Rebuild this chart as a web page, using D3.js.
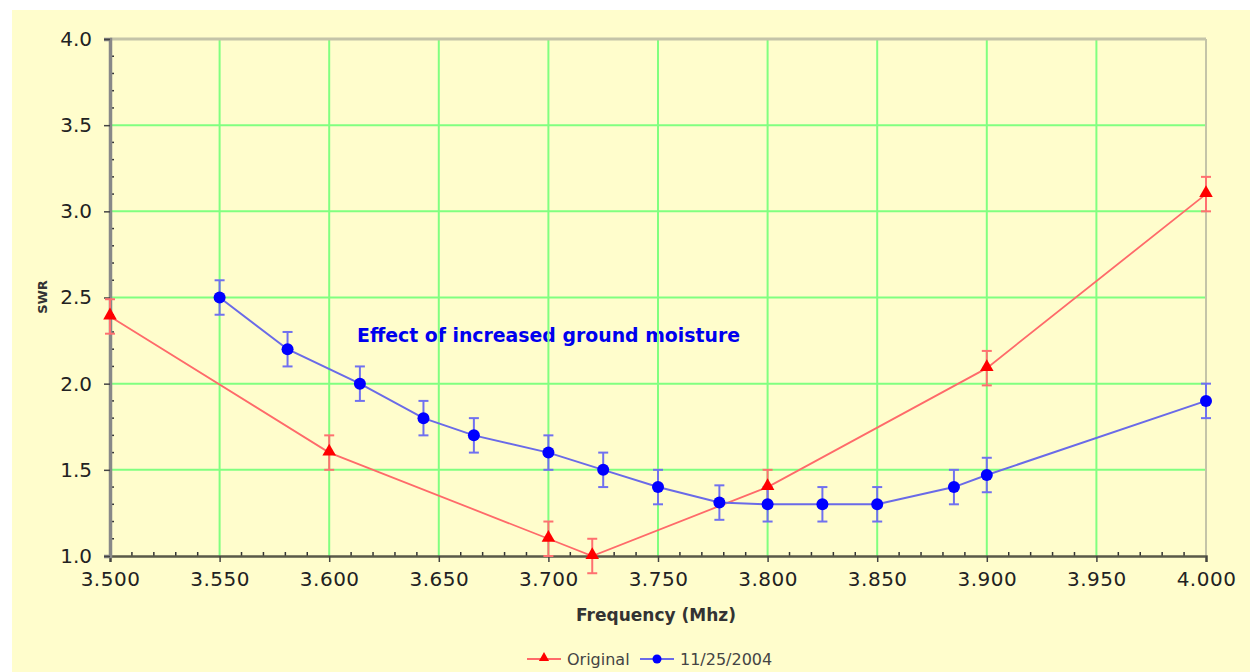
<!DOCTYPE html>
<html>
<head>
<meta charset="utf-8">
<script src="https://cdn.jsdelivr.net/npm/d3@7.9.0/dist/d3.min.js"></script>
<style>
  html, body { margin: 0; padding: 0; background: #fff; }
  svg { display: block; }
  text { font-family: "DejaVu Sans", Verdana, sans-serif; }
</style>
</head>
<body>
<div id="chart"></div>
<script>
// Original measurement (red triangles)
const originalFreq = [3.500, 3.600, 3.700, 3.720, 3.800, 3.900, 4.000];
const originalSwr  = [2.39, 1.60, 1.10, 1.00, 1.40, 2.09, 3.10];

// 11/25/2004 measurement (blue circles)
const recentFreq = [3.550, 3.581, 3.614, 3.643, 3.666, 3.700, 3.725, 3.750, 3.778, 3.800, 3.825, 3.850, 3.885, 3.900, 4.000];
const recentSwr  = [2.50, 2.20, 2.00, 1.80, 1.70, 1.60, 1.50, 1.40, 1.31, 1.30, 1.30, 1.30, 1.40, 1.47, 1.90];

const errSize = 0.1;

const xTicks = [3.500, 3.550, 3.600, 3.650, 3.700, 3.750, 3.800, 3.850, 3.900, 3.950, 4.000];
const yTicks = [1.0, 1.5, 2.0, 2.5, 3.0, 3.5, 4.0];

const seriesNames = ['Original', '11/25/2004'];

const width = 1250;
const height = 672;
const margin = { top: 39, right: 44, bottom: 116, left: 110 };

const svg = d3.select('#chart')
    .append('svg')
    .attr('width', width)
    .attr('height', height);

// yellow panel
svg.append('rect')
    .attr('x', 12).attr('y', 10)
    .attr('width', width - 12).attr('height', height - 10)
    .attr('fill', '#fffdcc');

const xScale = d3.scaleLinear()
    .domain([3.5, 4.0])
    .range([margin.left, width - margin.right]);

const yScale = d3.scaleLinear()
    .domain([1.0, 4.0])
    .range([height - margin.bottom, margin.top]);

const bottom = height - margin.bottom;
const right = width - margin.right;

// annotation sits under the grid in the original
svg.append('text')
    .attr('x', 357)
    .attr('y', 342)
    .attr('fill', '#0000ee')
    .attr('font-weight', 'bold')
    .attr('font-size', 20)
    .attr('textLength', 383)
    .attr('lengthAdjust', 'spacingAndGlyphs')
    .style('font-family', '"DejaVu Sans Condensed", "DejaVu Sans", sans-serif')
    .text('Effect of increased ground moisture');

// gridlines
const grid = svg.append('g').attr('stroke', '#80ff80').attr('stroke-width', 2);
grid.selectAll('line.v')
    .data(xTicks.slice(1, -1))
    .join('line')
    .attr('class', 'v')
    .attr('x1', d => xScale(d)).attr('x2', d => xScale(d))
    .attr('y1', margin.top).attr('y2', bottom);
grid.selectAll('line.h')
    .data(yTicks.slice(1, -1))
    .join('line')
    .attr('class', 'h')
    .attr('x1', margin.left).attr('x2', right)
    .attr('y1', d => yScale(d)).attr('y2', d => yScale(d));

// top and right border
svg.append('line')
    .attr('x1', margin.left).attr('x2', right)
    .attr('y1', margin.top).attr('y2', margin.top)
    .attr('stroke', '#c4c4a8').attr('stroke-width', 3);
svg.append('line')
    .attr('x1', right).attr('x2', right)
    .attr('y1', margin.top).attr('y2', bottom)
    .attr('stroke', '#c4c4a8').attr('stroke-width', 2);

// minor ticks
const xMinor = d3.range(3.5, 4.0001, 0.01).filter(v => Math.abs(v * 20 - Math.round(v * 20)) > 1e-6);
const yMinor = d3.range(1.0, 4.0001, 0.1).filter(v => Math.abs(v * 2 - Math.round(v * 2)) > 1e-6);

svg.append('g')
    .selectAll('line')
    .data(xMinor)
    .join('line')
    .attr('x1', d => xScale(d)).attr('x2', d => xScale(d))
    .attr('y1', bottom - 4).attr('y2', bottom)
    .attr('stroke', '#333').attr('stroke-width', 1.5);

svg.append('g')
    .selectAll('line')
    .data(yMinor)
    .join('line')
    .attr('x1', margin.left).attr('x2', margin.left + 4)
    .attr('y1', d => yScale(d)).attr('y2', d => yScale(d))
    .attr('stroke', '#333').attr('stroke-width', 1.5);

// axes
const xAxis = d3.axisBottom(xScale)
    .tickValues(xTicks)
    .tickFormat(d3.format('.3f'))
    .tickSize(6)
    .tickPadding(10);
const gx = svg.append('g')
    .attr('transform', `translate(0,${bottom})`)
    .call(xAxis);
gx.select('.domain').attr('stroke', '#5a5a48').attr('stroke-width', 2.5);
gx.selectAll('.tick line').attr('stroke', '#444').attr('stroke-width', 1.5);
gx.selectAll('.tick text')
    .attr('fill', '#222')
    .attr('font-size', 20)
    .attr('letter-spacing', 0.5)
    .style('font-family', '"DejaVu Sans", Verdana, sans-serif');

const yAxis = d3.axisLeft(yScale)
    .tickValues(yTicks)
    .tickFormat(d3.format('.1f'))
    .tickSize(6)
    .tickPadding(12);
const gy = svg.append('g')
    .attr('transform', `translate(${margin.left},0)`)
    .call(yAxis);
gy.select('.domain').attr('stroke', '#888').attr('stroke-width', 3.5);
gy.selectAll('.tick line').attr('stroke', '#444').attr('stroke-width', 1.5);
gy.selectAll('.tick text')
    .attr('fill', '#222')
    .attr('font-size', 20)
    .style('font-family', '"DejaVu Sans", Verdana, sans-serif');

// axis titles
svg.append('text')
    .attr('transform', 'translate(47,297) rotate(-90)')
    .attr('text-anchor', 'middle')
    .attr('font-size', 13)
    .attr('font-weight', 'bold')
    .attr('fill', '#333')
    .text('SWR');

svg.append('text')
    .attr('x', 656)
    .attr('y', 621)
    .attr('text-anchor', 'middle')
    .attr('font-size', 17)
    .attr('font-weight', 'bold')
    .attr('fill', '#333')
    .text('Frequency (Mhz)');

// series
const original = originalFreq.map((f, i) => ({ f, s: originalSwr[i] }));
const recent = recentFreq.map((f, i) => ({ f, s: recentSwr[i] }));

const line = d3.line().x(d => xScale(d.f)).y(d => yScale(d.s));

function drawErrors(data, color, width) {
    const g = svg.append('g').attr('stroke', color).attr('stroke-width', width);
    g.selectAll('line.bar')
        .data(data)
        .join('line')
        .attr('x1', d => xScale(d.f)).attr('x2', d => xScale(d.f))
        .attr('y1', d => yScale(d.s - errSize)).attr('y2', d => yScale(d.s + errSize));
    g.selectAll('line.top')
        .data(data)
        .join('line')
        .attr('class', 'top')
        .attr('x1', d => xScale(d.f) - 5).attr('x2', d => xScale(d.f) + 5)
        .attr('y1', d => yScale(d.s + errSize)).attr('y2', d => yScale(d.s + errSize));
    g.selectAll('line.bot')
        .data(data)
        .join('line')
        .attr('class', 'bot')
        .attr('x1', d => xScale(d.f) - 5).attr('x2', d => xScale(d.f) + 5)
        .attr('y1', d => yScale(d.s - errSize)).attr('y2', d => yScale(d.s - errSize));
}

drawErrors(original, '#ff7070', 2);
drawErrors(recent, '#7070f0', 2);

svg.append('path')
    .datum(original)
    .attr('fill', 'none')
    .attr('stroke', '#ff6a6a')
    .attr('stroke-width', 1.8)
    .attr('d', line);

svg.append('path')
    .datum(recent)
    .attr('fill', 'none')
    .attr('stroke', '#6a6ae8')
    .attr('stroke-width', 2)
    .attr('d', line);

const tri = d3.symbol().type(d3.symbolTriangle).size(80);

svg.append('g')
    .selectAll('path')
    .data(original)
    .join('path')
    .attr('transform', d => `translate(${xScale(d.f)},${yScale(d.s) - 1})`)
    .attr('d', tri)
    .attr('fill', '#ff0000');

svg.append('g')
    .selectAll('circle')
    .data(recent)
    .join('circle')
    .attr('cx', d => xScale(d.f))
    .attr('cy', d => yScale(d.s))
    .attr('r', 6)
    .attr('fill', '#0000ff');

// legend
const legend = svg.append('g').attr('transform', 'translate(0,659)');
const legendItems = [
    { name: seriesNames[0], x: 527, line: '#ff6a6a', mark: 'tri', color: '#ff0000' },
    { name: seriesNames[1], x: 640, line: '#6a6ae8', mark: 'circle', color: '#0000ff' }
];
legendItems.forEach(item => {
    legend.append('line')
        .attr('x1', item.x).attr('x2', item.x + 34)
        .attr('y1', 0).attr('y2', 0)
        .attr('stroke', item.line).attr('stroke-width', 2);
    if (item.mark === 'tri') {
        legend.append('path')
            .attr('transform', `translate(${item.x + 17},-1)`)
            .attr('d', d3.symbol().type(d3.symbolTriangle).size(45))
            .attr('fill', item.color);
    } else {
        legend.append('circle')
            .attr('cx', item.x + 17).attr('cy', 0).attr('r', 4.5)
            .attr('fill', item.color);
    }
    legend.append('text')
        .attr('x', item.x + 40)
        .attr('y', 6)
        .attr('font-size', 16)
        .attr('fill', '#444')
        .text(item.name);
});
</script>
</body>
</html>
